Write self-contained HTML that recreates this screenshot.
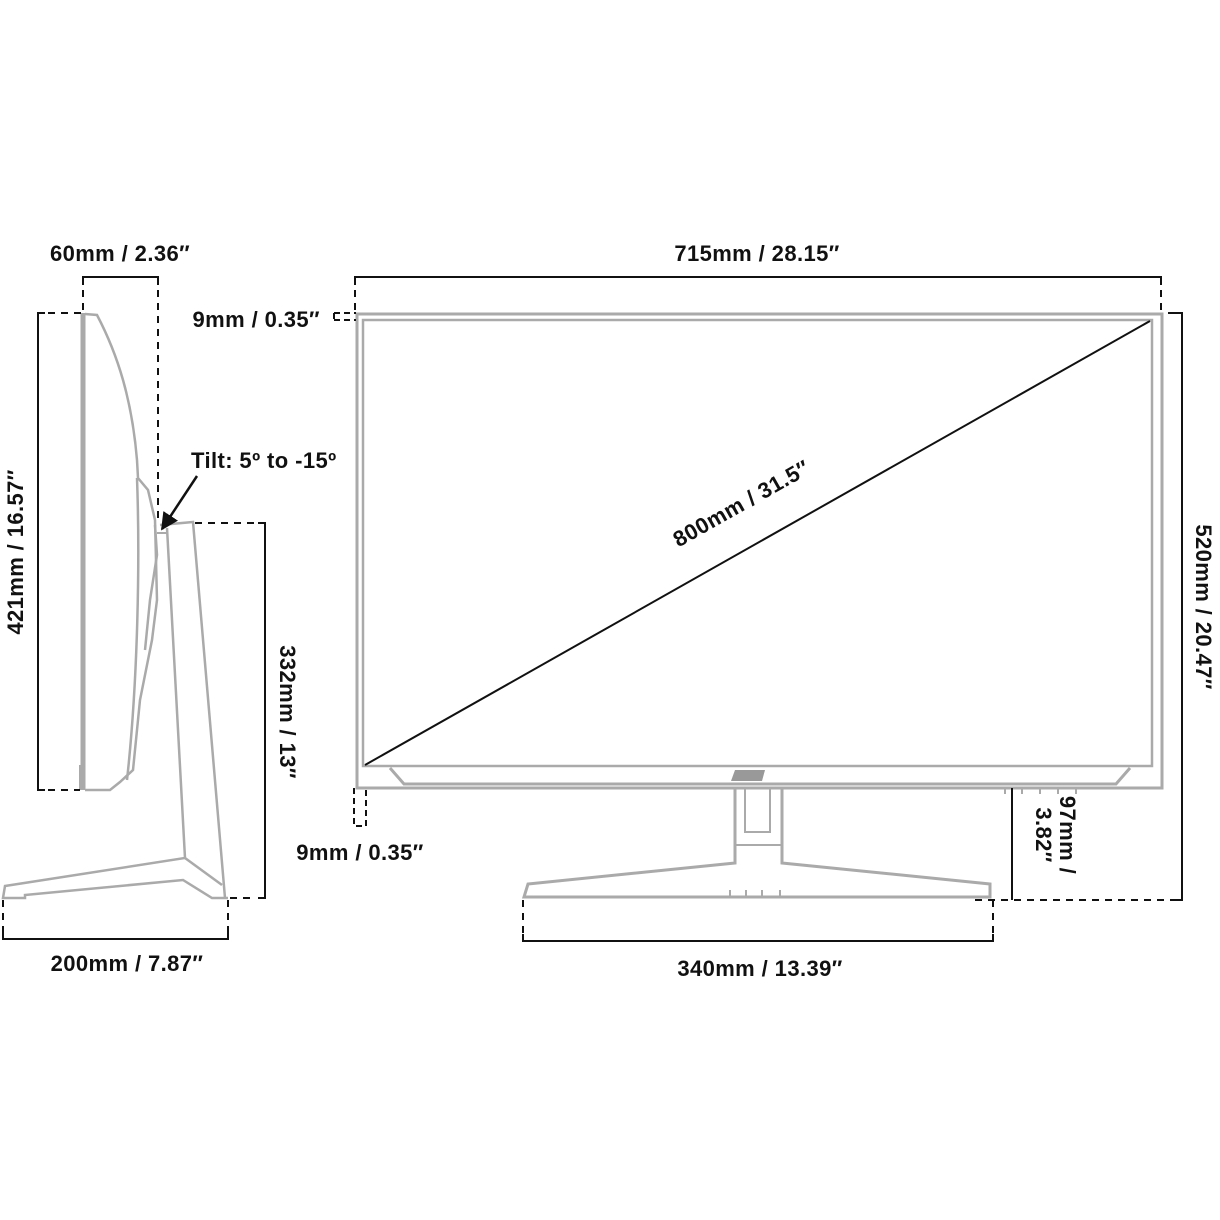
<!DOCTYPE html>
<html><head><meta charset="utf-8"><style>
html,body{margin:0;padding:0;background:#fff}
svg{display:block}
text{font-family:"Liberation Sans",sans-serif;font-weight:bold;font-size:22px;letter-spacing:0.4px;fill:#111}
</style></head><body>
<svg width="1220" height="1220" viewBox="0 0 1220 1220" xmlns="http://www.w3.org/2000/svg">
<defs><marker id="ah" viewBox="0 0 10 10" refX="9" refY="5" markerWidth="7" markerHeight="7" orient="auto"><path d="M0,0L10,5L0,10z" fill="#111"/></marker></defs>
<g fill="none" stroke="#aaa" stroke-width="3">
<rect x="357" y="314" width="805" height="474"/>
<rect x="363" y="320" width="789" height="446" stroke-width="2.5"/>
<polyline points="390,768 404,784 1116,784 1130,768"/>
<path d="M735,788 V863 L528,884 L524,897 L548,897 L990,897 L990,884 L782,863 V788"/>
<path d="M745,788 V832 L770,832 V788" stroke-width="2"/>
<line x1="735" y1="845" x2="782" y2="845" stroke-width="2"/>
<path d="M730,890 V898 M780,890 V898 M746,890 V898 M762,890 V898" stroke-width="2"/>
<path d="M1005,788 V794 M1022,788 V794 M1040,788 V794 M1058,788 V794 M1076,788 V794" stroke-width="2"/>
</g>
<path d="M735,770 L765,770 L762,781 L731,781 Z" fill="#999"/>
<line x1="365" y1="765" x2="1150" y2="321" stroke="#111" stroke-width="2"/>
<text transform="translate(745,510) rotate(-29.5)" text-anchor="middle">800mm / 31.5″</text>
<g fill="none" stroke="#111" stroke-width="2">
<path d="M355,285 V277 H1161 V285"/>
<path d="M355,290 V313 M1161,290 V313" stroke-dasharray="7,6"/>
<path d="M1168,313 H1182 V900 H1175"/>
<path d="M975,900 H1175" stroke-dasharray="7,6"/>
<path d="M1012,788 V900"/>
<path d="M334,313 H356 M334,320 H356 M334,313 V320" stroke-dasharray="6,4"/>
<path d="M354,788 V826 H366 V790" stroke-dasharray="6,4"/>
<path d="M523,900 V935 M993,900 V935" stroke-dasharray="7,6"/>
<path d="M523,934 V941 H993 V934"/>
</g>
<text x="757" y="261" text-anchor="middle">715mm / 28.15″</text>
<text x="320" y="327" text-anchor="end">9mm / 0.35″</text>
<text x="360" y="860" text-anchor="middle">9mm / 0.35″</text>
<text x="760" y="976" text-anchor="middle">340mm / 13.39″</text>
<text transform="translate(1196,607) rotate(90)" text-anchor="middle">520mm / 20.47″</text>
<text transform="translate(1060,835) rotate(90)" text-anchor="middle">97mm /</text>
<text transform="translate(1036,835) rotate(90)" text-anchor="middle">3.82″</text>
<g fill="none" stroke="#aaa" stroke-width="2.5">
<line x1="83" y1="313" x2="83" y2="790" stroke-width="5"/>
<path d="M85,314 L97,315 C118,355 132,400 137,460 L138,478 L148,490 L155,520 L157,600 L152,640 L140,700 L133,770 L120,782 L110,790 L85,790"/>
<path d="M137,478 C140,560 138,680 127,780"/>
<path d="M155,525 L157,555 L150,600 L145,650"/>
<path d="M160,525 L193,522 L225,898"/>
<path d="M167,528 L185,858 L5,886 L3,898 L25,898 L25,895 L183,880 L212,898 L228,898"/>
<path d="M185,858 L222,885"/>
<path d="M157,533 H168" stroke-width="2"/>
<path d="M80,765 V790" stroke-width="2"/>
</g>
<g fill="none" stroke="#111" stroke-width="2">
<path d="M83,285 V277 H158 V285"/>
<path d="M83,290 V313 M158,290 V520" stroke-dasharray="7,6"/>
<path d="M45,313 H38 V790 H45"/>
<path d="M48,313 H82 M48,790 H80" stroke-dasharray="7,6"/>
<path d="M195,523 H258" stroke-dasharray="7,6"/>
<path d="M258,523 H265 V898 H258"/>
<path d="M230,898 H256" stroke-dasharray="7,6"/>
<path d="M3,900 V932 M228,900 V932" stroke-dasharray="7,6"/>
<path d="M3,932 V939 H228 V932"/>
<line x1="197" y1="476" x2="162" y2="529" marker-end="url(#ah)" stroke-width="2.5"/>
</g>
<text x="120" y="261" text-anchor="middle">60mm / 2.36″</text>
<text x="191" y="468">Tilt: 5º to -15º</text>
<text transform="translate(23,552) rotate(-90)" text-anchor="middle">421mm / 16.57″</text>
<text transform="translate(280,712) rotate(90)" text-anchor="middle">332mm / 13″</text>
<text x="127" y="971" text-anchor="middle">200mm / 7.87″</text>
</svg>
</body></html>
